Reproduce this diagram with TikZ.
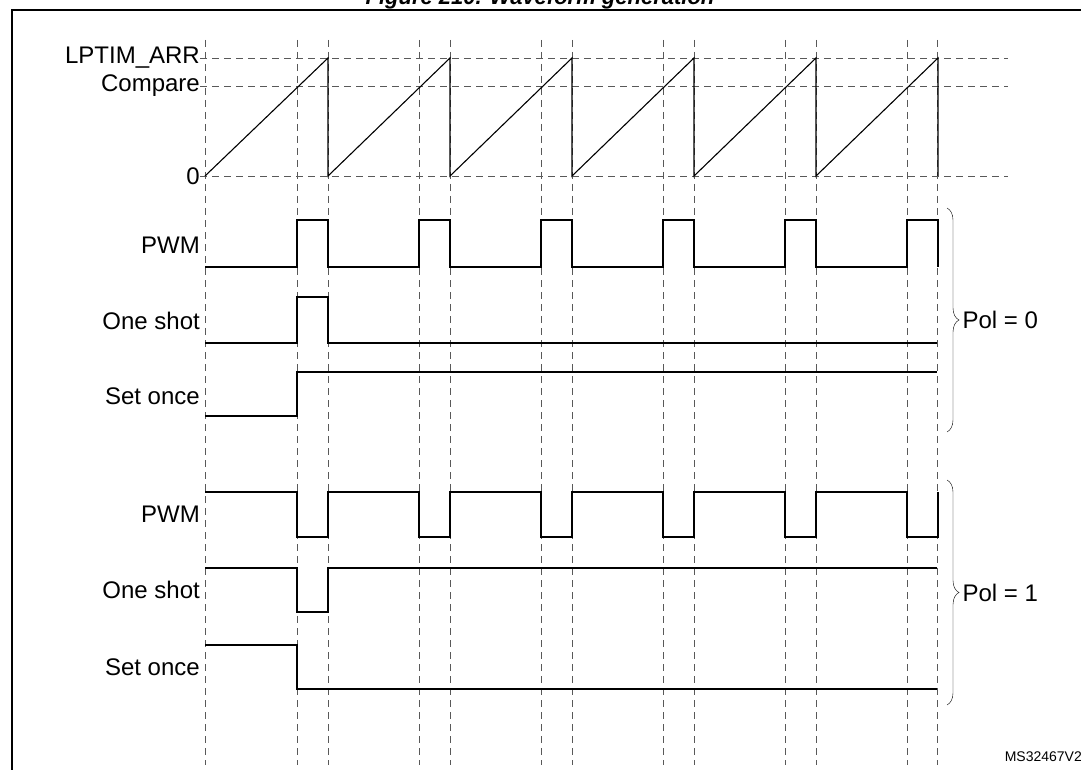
\documentclass[tikz,border=0pt]{standalone}
\usepackage{fontspec}
\setmainfont{Liberation Sans}
\usetikzlibrary{decorations.pathreplacing}
\begin{document}
\begin{tikzpicture}[x=1pt,y=-1pt,
grid/.style={dashed, thin, dash pattern=on 7pt off 5pt, gray!70!black},
wave/.style={line width=1.1pt},
lbl/.style={anchor=east, font=\fontsize{24}{26}\selectfont, inner sep=2pt},
pol/.style={decorate, decoration={brace, amplitude=12pt}, thin},
]
\useasboundingbox (0,0) rectangle (1081,770);
%title and frame
\node[font=\bfseries\itshape\fontsize{22}{24}\selectfont] (title) at (540,-1) {Figure 210. Waveform generation};
\draw[line width=1.2pt] (12,10) rectangle (1095,785);

%grid
\foreach \x in {205,297,328,419,450,541,572,663,694,785,816,907,937}
  \draw[grid] (\x,40) -- (\x,765);
\foreach \y in {58,86,176}
  \draw[grid] (200,\y) -- (1008,\y);

%labels
\node[lbl] (arr) at (202,58) {LPTIM\_ARR};
\node[lbl] (cmp) at (202,86) {Compare};
\node[lbl] (zero) at (202,176) {0};
\node[lbl] (pwma) at (202,245) {PWM};
\node[lbl] (osa) at (202,321) {One shot};
\node[lbl] (soa) at (202,396) {Set once};
\node[lbl] (pwmb) at (202,514) {PWM};
\node[lbl] (osb) at (202,590) {One shot};
\node[lbl] (sob) at (202,667) {Set once};

%counter
\draw[wave] (205,176) -- (328,58) -- (328,176)
  \foreach \k in {2,...,6} { -- ({206+122*\k},58) -- ({206+122*\k},176) };

%pol = 0
\draw[wave] (205,267) \foreach \k in {0,...,5} { -- ({297+122*\k},267) -- ({297+122*\k},220) -- ({328+122*\k},220) -- ({328+122*\k},267) };
\draw[wave] (205,343) -- (297,343) -- (297,297) -- (328,297) -- (328,343) -- (937,343);
\draw[wave] (205,416) -- (297,416) -- (297,372) -- (937,372);

%pol = 1
\draw[wave] (205,492) \foreach \k in {0,...,5} { -- ({297+122*\k},492) -- ({297+122*\k},537) -- ({328+122*\k},537) -- ({328+122*\k},492) };
\draw[wave] (205,568) -- (297,568) -- (297,612) -- (328,612) -- (328,568) -- (937,568);
\draw[wave] (205,645) -- (297,645) -- (297,689) -- (937,689);

%braces
\coordinate (b0t) at (947,208);
\coordinate (b0b) at (947,432);
\coordinate (b1t) at (947,480);
\coordinate (b1b) at (947,705);
\draw[pol] (b0t) -- (b0b) node[midway, right=12pt, font=\fontsize{24}{26}\selectfont] (pol0) {Pol = 0};
\draw[pol] (b1t) -- (b1b) node[midway, right=12pt, font=\fontsize{24}{26}\selectfont] (pol1) {Pol = 1};

\node[anchor=east, font=\fontsize{14}{16}\selectfont, inner sep=1pt] (ref) at (1083,757) {MS32467V2};
\end{tikzpicture}
\end{document}
